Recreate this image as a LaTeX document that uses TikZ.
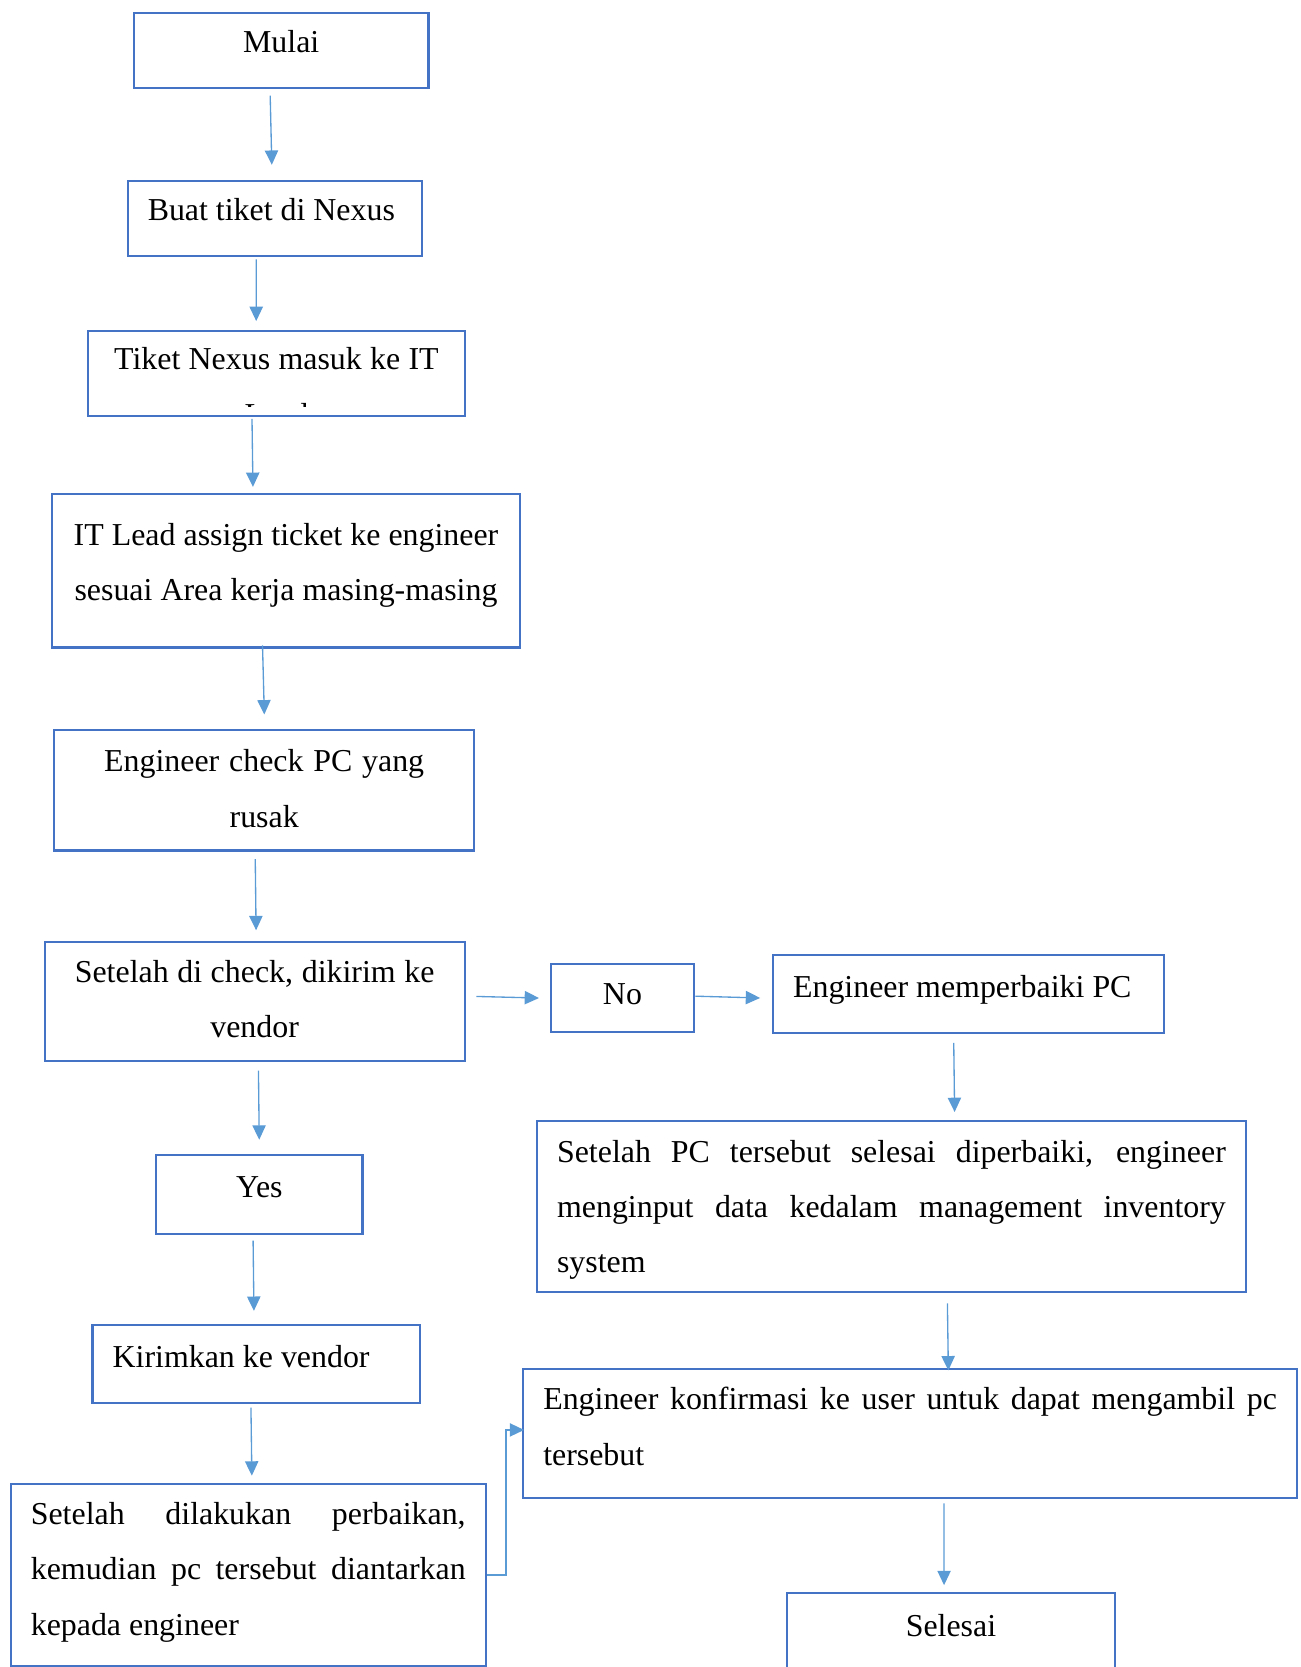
\documentclass[tikz,border=0pt]{standalone}
\usepackage{fontspec}
\setmainfont{Liberation Serif}
\usepackage{xcolor}
\usepackage{tikz}
\usetikzlibrary{arrows.meta}
\definecolor{boxblue}{HTML}{4472C4}
\definecolor{arrowblue}{HTML}{5B9BD5}

\begin{document}
\begin{tikzpicture}[x=0.4pt, y=-0.4pt,
  stepbox/.style={draw=boxblue, line width=0.8pt, anchor=north west,
    inner xsep=7.6pt, inner ysep=0pt, font=\fontsize{12pt}{20.8pt}\selectfont,
    execute at begin node={\spaceskip=0pt\xspaceskip=0pt\relax}},
  flow/.style={draw=arrowblue, line width=0.5pt, -{Triangle[length=5.4pt, width=5pt]}}]

  \useasboundingbox (0,0) rectangle (1223,1568);

  % main column
  \node[stepbox, text width=95.6pt, text height=14.8pt, text depth=13.6pt, align=center] (mulai) at (125,11) {Mulai};
  \node[stepbox, text width=95.6pt, text height=14.8pt, text depth=13.6pt, align=left] (buat) at (119,169) {Buat tiket di Nexus};
  \node[stepbox, text width=126.4pt, text height=14.8pt, text depth=17.2pt, align=center,
        path picture={
          \clip ([yshift=3.6pt]path picture bounding box.south west) rectangle (path picture bounding box.north east);
          \node[anchor=base, inner sep=0pt, font=\fontsize{12pt}{20.8pt}\selectfont] (leadword)
            at ([yshift=-3.6pt]path picture bounding box.south) {Lead};
        }] (tiket) at (82,310) {Tiket Nexus masuk ke IT};
  \node[stepbox, text width=160.8pt, text height=19.2pt, text depth=38.4pt, align=center] (assign) at (48,464)
    {IT Lead assign ticket ke engineer\\sesuai Area kerja masing-masing};
  \node[stepbox, text width=142.8pt, text height=15.6pt, text depth=29.6pt, align=center] (cek) at (50,686)
    {Engineer check PC yang\\rusak};
  \node[stepbox, text width=142.8pt, text height=15.2pt, text depth=29.6pt, align=center] (vendorcek) at (41,885)
    {Setelah di check, dikirim ke\\vendor};

  % yes branch
  \node[stepbox, text width=62.4pt, text height=16pt, text depth=14pt, align=center] (yes) at (146,1085) {Yes};
  \node[stepbox, text width=108pt, text height=16pt, text depth=13.6pt, align=left] (kirim) at (86,1245) {Kirimkan ke vendor};
  \node[stepbox, text width=163.6pt, text height=15.2pt, text depth=53.2pt, align=justify] (antar) at (9,1395)
    {Setelah dilakukan perbaikan,\linebreak kemudian pc tersebut diantarkan\linebreak kepada engineer};

  % no branch
  \node[stepbox, text width=38.8pt, text height=15.2pt, text depth=10.4pt, align=center] (no) at (517,906) {No};
  \node[stepbox, text width=132pt, text height=16pt, text depth=13.6pt, align=left] (perbaiki) at (726,897) {Engineer memperbaiki PC};
  \node[stepbox, text width=251.6pt, text height=15.6pt, text depth=48.8pt, align=justify] (input) at (504,1053)
    {Setelah PC tersebut selesai diperbaiki, engineer\linebreak menginput data kedalam management inventory\linebreak system};
  \node[stepbox, text width=276pt, text height=15.2pt, text depth=33.2pt, align=justify] (konfirmasi) at (491,1287)
    {Engineer konfirmasi ke user untuk dapat mengambil pc\linebreak tersebut};
  \node[stepbox, text width=108.4pt, text height=16.4pt, text depth=23.6pt, align=center] (selesai) at (739,1497) {Selesai};

  % connectors
  \draw[flow, shorten <=2.4pt, shorten >=5.6pt] ([xshift=-4.2pt]mulai.south) -- ([xshift=-1pt]buat.north);
  \draw[flow, shorten <=0.8pt, shorten >=3.2pt] ([xshift=-7pt]buat.south) -- ([xshift=-7.6pt]tiket.north);
  \draw[flow, shorten <=0.8pt, shorten >=2.4pt] ([xshift=-9.2pt]tiket.south) -- ([xshift=-12.4pt]assign.north);
  \draw[flow, shorten <=-1.2pt, shorten >=5.6pt] ([xshift=-8.8pt]assign.south) -- ([xshift=0.2pt]cek.north);
  \draw[flow, shorten <=2.8pt, shorten >=4pt] ([xshift=-3.4pt]cek.south) -- ([xshift=0.6pt]vendorcek.north);
  \draw[flow, shorten <=4pt, shorten >=4pt] ([yshift=2pt]vendorcek.east) -- (no.west);
  \draw[flow, shorten >=4.4pt] ([yshift=0.8pt]no.east) -- ([yshift=-1.6pt]perbaiki.west);
  \draw[flow, shorten <=3.2pt, shorten >=2.8pt] ([xshift=-5.6pt]perbaiki.south) -- ([xshift=23.8pt]input.north);
  \draw[flow, shorten <=4pt, shorten >=-0.8pt] ([xshift=21pt]input.south) -- ([xshift=14.4pt]konfirmasi.north);
  \draw[flow, shorten <=1.6pt, shorten >=2.4pt] ([xshift=12.8pt]konfirmasi.south) -- ([xshift=-2.6pt]selesai.north);
  \draw[flow, shorten <=3.2pt, shorten >=5.2pt] ([xshift=1.4pt]vendorcek.south) -- (yes.north);
  \draw[flow, shorten <=2pt, shorten >=4.8pt] ([xshift=-2.4pt]yes.south) -- ([xshift=-0.8pt]kirim.north);
  \draw[flow, shorten <=1.2pt, shorten >=2.8pt] ([xshift=-2pt]kirim.south) -- ([xshift=1.4pt]antar.north);
  \draw[flow, shorten >=-0.8pt] (antar.east) -- ++(7.2pt,0) |- ([yshift=1.4pt]konfirmasi.west);
\end{tikzpicture}
\end{document}
